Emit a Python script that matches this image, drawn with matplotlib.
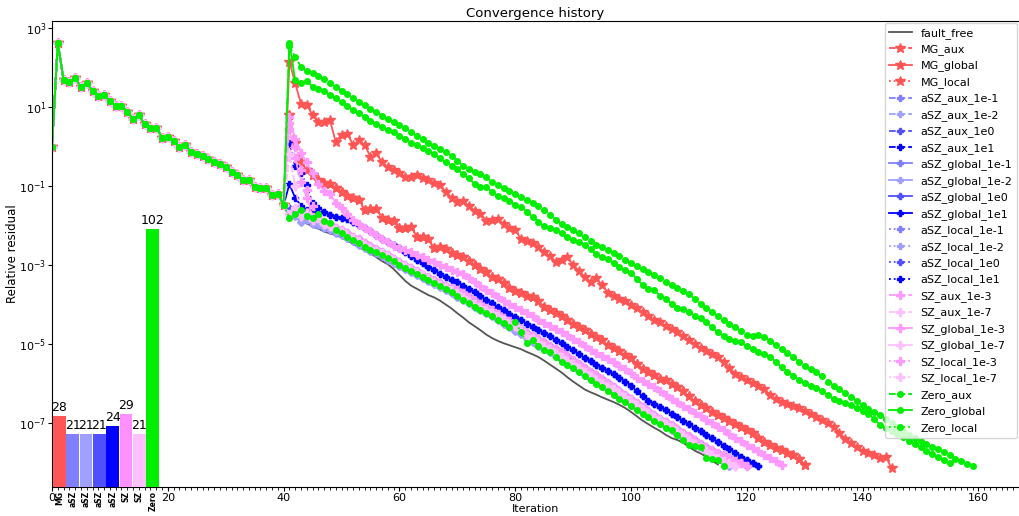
import numpy as np
import matplotlib
matplotlib.use("Agg")
import matplotlib.pyplot as plt

# ---------------- data (log10 of relative residual) ----------------
# shared history before the fault (iterations 0..40)
pre_log = [0.0, 2.63, 1.68, 1.64, 1.73, 1.51, 1.60, 1.41, 1.29, 1.30, 1.16, 1.03, 1.03, 0.88,
           0.71, 0.80, 0.56, 0.46, 0.48, 0.23, 0.25, 0.15, 0.0, 0.04, -0.13, -0.19, -0.24,
           -0.32, -0.38, -0.44, -0.51, -0.65, -0.72, -0.85, -0.85, -1.03, -1.06, -1.06,
           -1.23, -1.20, -1.48]

# post-fault parts, starting at iteration 41
fault_free_post = [-1.6, -1.75, -1.85, -1.95, -2.02, -2.08, -2.15, -2.2, -2.24, -2.3,
                   -2.38, -2.47, -2.54, -2.62, -2.7, -2.8, -2.9, -2.98, -3.1, -3.25,
                   -3.4, -3.52, -3.6, -3.68, -3.76, -3.82, -3.9, -4.0, -4.1, -4.22,
                   -4.33, -4.45, -4.55, -4.65, -4.76, -4.85, -4.92, -4.98, -5.03, -5.08,
                   -5.13, -5.2, -5.26, -5.33, -5.42, -5.52, -5.62, -5.72, -5.84, -5.95,
                   -6.05, -6.15, -6.22, -6.28, -6.35, -6.41, -6.47, -6.54, -6.62, -6.72,
                   -6.83, -6.94, -7.03, -7.12, -7.2, -7.3, -7.38, -7.43, -7.5, -7.6,
                   -7.7, -7.77, -7.85, -7.95, -8.05]

mg_global_post = [2.15, 1.6, 1.09, 1.05, 0.8, 0.63, 0.62, 0.67, 0.12, 0.3,
                  0.33, 0.04, 0.16, 0.04, -0.26, -0.17, -0.4, -0.52, -0.6, -0.68,
                  -0.76, -0.76, -0.72, -0.8, -0.85, -0.93, -0.98, -1.14, -1.3, -1.4,
                  -1.38, -1.5, -1.62, -1.7, -1.88, -1.86, -1.84, -1.95, -2.05, -2.1,
                  -2.35, -2.38, -2.45, -2.55, -2.66, -2.78, -2.92, -2.86, -2.79, -3.0,
                  -3.15, -3.3, -3.42, -3.34, -3.5, -3.7, -3.78, -3.85, -3.92, -4.0,
                  -4.1, -4.2, -4.3, -4.38, -4.45, -4.55, -4.62, -4.7, -4.8, -4.9,
                  -5.0, -5.1, -5.18, -5.25, -5.32, -5.45, -5.6, -5.75, -5.83, -5.9,
                  -5.98, -6.06, -6.15, -6.28, -6.4, -6.46, -6.52, -6.58, -6.63, -6.7,
                  -6.78, -6.84, -6.92, -7.0, -7.09, -7.25, -7.4, -7.5, -7.6, -7.7,
                  -7.75, -7.82, -7.88, -7.85, -8.15]

mg_local_post = [0.8, 0.1, -0.38, -0.6, -0.72, -0.85, -0.93, -0.95, -1.05, -1.14,
                 -1.25, -1.31, -1.35, -1.61, -1.58, -1.57, -1.8, -1.86, -1.88, -2.07,
                 -2.05, -2.03, -2.28, -2.28, -2.35, -2.58, -2.54, -2.6, -2.7, -2.75,
                 -2.8, -2.9, -3.0, -3.1, -3.18, -3.3, -3.36, -3.45, -3.58, -3.65,
                 -3.72, -3.78, -3.8, -3.92, -4.05, -4.15, -4.22, -4.3, -4.4, -4.5,
                 -4.58, -4.65, -4.75, -4.82, -4.9, -5.02, -5.1, -5.18, -5.28, -5.36,
                 -5.5, -5.62, -5.7, -5.78, -5.88, -5.92, -6.02, -6.1, -6.2, -6.32,
                 -6.45, -6.55, -6.63, -6.72, -6.8, -6.88, -6.95, -7.02, -7.1, -7.18,
                 -7.25, -7.38, -7.47, -7.55, -7.62, -7.68, -7.75, -7.82, -7.9, -8.06]

zero_global_post = [2.63, 1.68, 1.62, 1.66, 1.52, 1.45, 1.40, 1.30, 1.22, 1.12,
                    1.02, 0.92, 0.84, 0.76, 0.66, 0.58, 0.50, 0.42, 0.36, 0.28,
                    0.18, 0.10, 0.04, -0.04, -0.12, -0.2, -0.3, -0.4, -0.48, -0.58,
                    -0.7, -0.8, -0.95, -1.02, -1.03, -1.15, -1.26, -1.3, -1.38, -1.47,
                    -1.52, -1.65, -1.78, -1.9, -2.02, -2.05, -2.12, -2.2, -2.3, -2.36,
                    -2.42, -2.5, -2.6, -2.72, -2.8, -2.85, -2.95, -3.05, -3.12, -3.2,
                    -3.35, -3.5, -3.6, -3.62, -3.78, -3.85, -3.98, -4.08, -4.12, -4.2,
                    -4.28, -4.35, -4.45, -4.58, -4.7, -4.8, -4.88, -4.92, -4.96, -5.05,
                    -5.12, -5.2, -5.25, -5.32, -5.45, -5.58, -5.7, -5.8, -5.9, -5.98,
                    -6.05, -6.12, -6.2, -6.3, -6.38, -6.45, -6.5, -6.55, -6.62, -6.7,
                    -6.76, -6.9, -7.05, -7.12, -7.2, -7.28, -7.36, -7.45, -7.52, -7.6,
                    -7.7, -7.78, -7.86, -7.94, -8.02]

zero_aux_post = [2.55, 2.27, 2.02, 1.92, 1.86, 1.78, 1.7, 1.6, 1.52, 1.42,
                 1.32, 1.22, 1.14, 1.05, 0.96, 0.88, 0.78, 0.7, 0.62, 0.55,
                 0.46, 0.38, 0.27, 0.18, 0.1, 0.02, -0.06, -0.14, -0.24, -0.36,
                 -0.49, -0.56, -0.64, -0.7, -0.78, -0.9, -0.98, -1.05, -1.12, -1.2,
                 -1.28, -1.35, -1.42, -1.5, -1.6, -1.72, -1.85, -1.96, -2.04, -2.12,
                 -2.2, -2.3, -2.4, -2.48, -2.55, -2.62, -2.7, -2.78, -2.86, -2.95,
                 -3.02, -3.1, -3.18, -3.26, -3.34, -3.42, -3.5, -3.58, -3.66, -3.74,
                 -3.85, -3.98, -4.08, -4.18, -4.3, -4.4, -4.5, -4.58, -4.68, -4.76,
                 -4.8, -4.76, -4.82, -4.92, -5.02, -5.12, -5.22, -5.32, -5.45, -5.55,
                 -5.62, -5.72, -5.82, -5.95, -6.05, -6.15, -6.25, -6.35, -6.45, -6.55,
                 -6.65, -6.72, -6.8, -6.9, -7.0, -7.1, -7.2, -7.3, -7.38, -7.45,
                 -7.52, -7.6, -7.66, -7.74, -7.82, -7.9, -7.97, -8.04, -8.1]

zero_local_post = [-1.8, -1.7, -1.6, -1.75, -1.82, -1.7, -1.88, -1.94, -2.1, -2.18,
                   -2.28, -2.37, -2.45, -2.55, -2.62, -2.68, -2.75, -2.82, -2.9, -3.0,
                   -3.08, -3.14, -3.22, -3.3, -3.38, -3.46, -3.53, -3.6, -3.68, -3.78,
                   -3.88, -3.96, -4.05, -4.13, -4.22, -4.3, -4.38, -4.46, -4.56, -4.44,
                   -4.7, -4.98, -4.9, -5.05, -5.15, -5.2, -5.34, -5.45, -5.53, -5.6,
                   -5.7, -5.82, -5.92, -6.0, -6.1, -6.18, -6.28, -6.38, -6.46, -6.58,
                   -6.68, -6.78, -6.86, -6.96, -7.02, -7.12, -7.18, -7.3, -7.42, -7.56,
                   -7.58, -7.6, -7.89, -7.9, -7.94, -8.1]

sz_upper_post = [0.75, 0.2, -0.15, -0.4, -0.68, -0.95, -1.12, -1.2, -1.42, -1.55,
                 -1.7, -1.85, -1.97, -2.06, -2.15, -2.24, -2.33, -2.42, -2.52, -2.58,
                 -2.63, -2.68, -2.74, -2.8, -2.87, -2.93, -3.0, -3.06, -3.12, -3.18,
                 -3.23, -3.32, -3.42, -3.52, -3.62, -3.72, -3.8, -3.9, -3.98, -4.06,
                 -4.14, -4.22, -4.3, -4.38, -4.46, -4.55, -4.62, -4.7, -4.78, -4.86,
                 -4.95, -5.05, -5.14, -5.22, -5.3, -5.38, -5.46, -5.55, -5.64, -5.74,
                 -5.85, -5.93, -6.02, -6.1, -6.2, -6.3, -6.4, -6.48, -6.57, -6.65,
                 -6.74, -6.83, -6.92, -7.0, -7.1, -7.18, -7.27, -7.37, -7.46, -7.55,
                 -7.63, -7.71, -7.8, -7.88, -7.97, -8.06]

dkblue_post = [0.09, -0.5, -0.68, -0.97, -1.44, -1.55, -1.65, -1.72, -1.78, -1.8,
               -1.83, -1.9, -1.98, -2.06, -2.15, -2.25, -2.33, -2.42, -2.5, -2.58,
               -2.68, -2.78, -2.87, -2.96, -3.04, -3.13, -3.22, -3.3, -3.37, -3.44,
               -3.52, -3.6, -3.69, -3.78, -3.88, -3.97, -4.06, -4.15, -4.24, -4.32,
               -4.4, -4.48, -4.56, -4.64, -4.72, -4.8, -4.9, -4.98, -5.07, -5.16,
               -5.25, -5.35, -5.43, -5.52, -5.6, -5.68, -5.76, -5.85, -5.95, -6.05,
               -6.2, -6.32, -6.43, -6.52, -6.6, -6.67, -6.77, -6.86, -6.95, -7.03,
               -7.12, -7.21, -7.3, -7.39, -7.48, -7.57, -7.66, -7.75, -7.85, -7.93,
               -8.01, -8.1]
dkblue_global_head = [-0.95, -1.3, -1.5, -1.6, -1.62, -1.68]

cluster_mid_post = [-1.55, -1.62, -1.7, -1.62, -1.78, -1.82, -1.9, -1.95, -2.05, -2.12,
                    -2.2, -2.28, -2.35, -2.45, -2.52, -2.6, -2.68, -2.75, -2.84, -2.92,
                    -3.0, -3.08, -3.15, -3.24, -3.3, -3.38, -3.45, -3.52, -3.58, -3.62,
                    -3.72, -3.82, -3.9, -3.98, -4.08, -4.15, -4.25, -4.34, -4.42, -4.5,
                    -4.62, -4.72, -4.8, -4.88, -4.95, -5.05, -5.12, -5.2, -5.3, -5.4,
                    -5.5, -5.6, -5.7, -5.78, -5.88, -5.98, -6.08, -6.18, -6.3, -6.4,
                    -6.5, -6.6, -6.7, -6.8, -6.9, -6.98, -7.05, -7.14, -7.24, -7.34,
                    -7.43, -7.52, -7.6, -7.68, -7.75, -7.82, -7.88, -7.95, -8.02, -8.1]

cluster_low_post = [-1.7, -1.55, -1.75, -1.68, -1.85, -1.8, -1.95, -2.0, -2.08, -2.15,
                    -2.25, -2.32, -2.4, -2.5, -2.56, -2.62, -2.7, -2.78, -2.86, -2.94,
                    -3.02, -3.1, -3.18, -3.26, -3.34, -3.42, -3.5, -3.56, -3.64, -3.72,
                    -3.8, -3.9, -3.98, -4.06, -4.15, -4.22, -4.3, -4.38, -4.48, -4.55,
                    -4.65, -4.8, -4.85, -4.95, -5.05, -5.12, -5.22, -5.32, -5.42, -5.5,
                    -5.6, -5.7, -5.8, -5.9, -5.98, -6.06, -6.15, -6.25, -6.35, -6.45,
                    -6.55, -6.65, -6.75, -6.85, -6.93, -7.02, -7.1, -7.2, -7.3, -7.42,
                    -7.52, -7.6, -7.7, -7.8, -7.88, -7.95, -8.02, -8.1]

cluster_low2_post = [-1.6, -1.75, -1.9, -1.85, -1.95, -1.98, -2.05, -2.12, -2.2, -2.25,
                     -2.32, -2.4, -2.48, -2.56, -2.64, -2.7, -2.78, -2.86, -2.94, -3.02,
                     -3.1, -3.18, -3.26, -3.34, -3.4, -3.48, -3.56, -3.64, -3.72, -3.8,
                     -3.88, -3.96, -4.05, -4.14, -4.22, -4.3, -4.38, -4.48, -4.58, -4.66,
                     -4.75, -4.85, -4.95, -5.05, -5.12, -5.2, -5.3, -5.4, -5.5, -5.58,
                     -5.68, -5.78, -5.88, -5.96, -6.05, -6.14, -6.24, -6.34, -6.44, -6.52,
                     -6.62, -6.72, -6.82, -6.9, -7.0, -7.08, -7.18, -7.28, -7.38, -7.48,
                     -7.56, -7.64, -7.72, -7.82, -7.9, -7.98, -8.08]

sz_aux_1e3_head = [0.45, -0.3, -0.9, -1.3]
sz_local_1e3_head = [0.6, 0.0, -0.6, -1.1, -1.5]
sz_1e7_head = [-0.2, -1.0]

# bar inset
bar_labels = ["MG", "aSZ", "aSZ", "aSZ", "aSZ", "SZ", "SZ", "Zero"]
bar_values = [28, 21, 21, 21, 24, 29, 21, 102]
bar_colors = ["#ff5555", "#8080ff", "#a0a0ff", "#5050ff", "#0000ff", "#ff90ff", "#ffc0ff", "#00ee00"]

# ---------------- series assembly ----------------
RED = "#ff5555"
B1, B2, B0, B10 = "#8080ff", "#a0a0ff", "#5050ff", "#0000ff"
P3, P7 = "#ff99ff", "#ffc0ff"
GRN = "#00ee00"

series = [
    ("fault_free", fault_free_post, "#555555", "-", None, 0),
    ("MG_aux", mg_local_post, RED, "--", "*", 7),
    ("MG_global", mg_global_post, RED, "-", "*", 7),
    ("MG_local", mg_local_post, RED, ":", "*", 7),
    ("aSZ_aux_1e-1", cluster_low2_post, B1, "--", "P", 5),
    ("aSZ_aux_1e-2", cluster_low2_post, B2, "--", "P", 5),
    ("aSZ_aux_1e0", cluster_low_post, B0, "--", "P", 5),
    ("aSZ_aux_1e1", cluster_mid_post, B10, "--", "P", 5),
    ("aSZ_global_1e-1", cluster_low2_post, B1, "-", "P", 5),
    ("aSZ_global_1e-2", cluster_low2_post, B2, "-", "P", 5),
    ("aSZ_global_1e0", cluster_mid_post, B0, "-", "P", 5),
    ("aSZ_global_1e1", dkblue_global_head + dkblue_post[len(dkblue_global_head):], B10, "-", "P", 5),
    ("aSZ_local_1e-1", cluster_low2_post, B1, ":", "P", 5),
    ("aSZ_local_1e-2", cluster_low2_post, B2, ":", "P", 5),
    ("aSZ_local_1e0", cluster_mid_post, B0, ":", "P", 5),
    ("aSZ_local_1e1", dkblue_post, B10, ":", "P", 5),
    ("SZ_aux_1e-3", sz_aux_1e3_head + cluster_mid_post[len(sz_aux_1e3_head):], P3, "--", "P", 6),
    ("SZ_aux_1e-7", sz_1e7_head + cluster_low_post[len(sz_1e7_head):], P7, "--", "P", 6),
    ("SZ_global_1e-3", sz_upper_post, P3, "-", "P", 6),
    ("SZ_global_1e-7", cluster_low_post, P7, "-", "P", 6),
    ("SZ_local_1e-3", sz_local_1e3_head + cluster_mid_post[len(sz_local_1e3_head):], P3, ":", "P", 6),
    ("SZ_local_1e-7", sz_1e7_head + cluster_low_post[len(sz_1e7_head):], P7, ":", "P", 6),
    ("Zero_aux", zero_aux_post, GRN, "--", "o", 4),
    ("Zero_global", zero_global_post, GRN, "-", "o", 4),
    ("Zero_local", zero_local_post, GRN, ":", "o", 4),
]

# ---------------- figure ----------------
W, H = 1019, 516
fig = plt.figure(figsize=(W / 100, H / 100), dpi=100)
ax_h = (487 - 21) / H
ax = fig.add_axes([52 / W, 29 / H, (W - 52) / W, ax_h])

for name, post, color, ls, mk, ms in series:
    logs = np.array(pre_log + list(post))
    it = np.arange(len(logs))
    ax.semilogy(it, 10.0 ** logs, color=color, linestyle=ls, marker=mk,
                markersize=ms, linewidth=1.3, label=name)

ax.set_xlim(0, 167)
ax.set_ylim(10 ** -8.62, 10 ** 3.18)
ax.set_xticks(np.arange(0, 161, 20))
ax.set_xticks(np.arange(0, 168, 1), minor=True)
ax.set_yticks([10.0 ** k for k in (3, 1, -1, -3, -5, -7)])
ax.yaxis.set_minor_locator(matplotlib.ticker.NullLocator())
ax.tick_params(axis="both", which="major", labelsize=8, length=3, pad=1.2)
ax.tick_params(axis="x", which="minor", length=2)
ax.set_xlabel("Iteration", fontsize=8)
ax.set_ylabel("Relative residual", fontsize=8.5)
ax.xaxis.set_label_coords(0.5, -(504.5 - 487) / (487 - 21))
ax.yaxis.set_label_coords(-(52 - 19) / (W - 52), 0.5)
ax.set_title("Convergence history", fontsize=9.5, pad=3)
ax.spines["right"].set_visible(False)
ax.legend(loc="upper right", fontsize=8, borderaxespad=0.2, handlelength=2.0,
          labelspacing=0.5)

# inset bar chart
ax2 = fig.add_axes([52 / W, 29 / H, 108 / W, ax_h])
ax2.patch.set_alpha(0)
pos = np.arange(len(bar_values))
ax2.bar(pos, bar_values, width=0.95, color=bar_colors)
for p, v in zip(pos, bar_values):
    ax2.text(p, v + 0.8, str(v), ha="center", va="bottom", fontsize=9)
ax2.set_xlim(-0.55, len(bar_values) - 0.45)
ax2.set_ylim(0, 184)
ax2.set_yticks([])
ax2.set_xticks(pos)
ax2.set_xticklabels(bar_labels, rotation=90, fontsize=5.5, fontweight="bold")
ax2.tick_params(axis="x", length=0, pad=3)
for s in ax2.spines.values():
    s.set_visible(False)

fig.savefig("out.png", dpi=100)
